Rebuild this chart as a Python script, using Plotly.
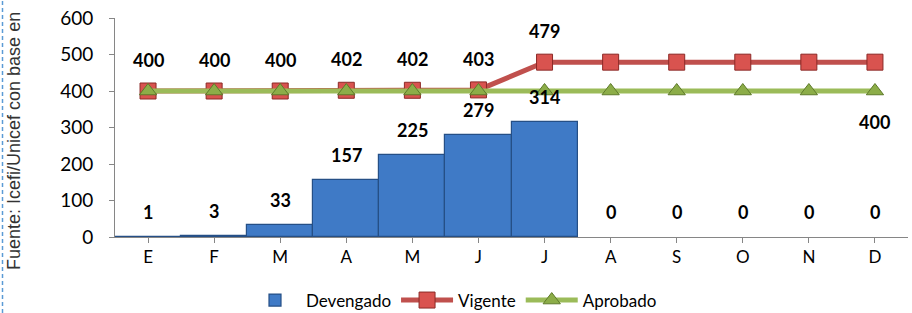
import plotly.graph_objects as go

months = ["E", "F", "M", "A", "M", "J", "J", "A", "S", "O", "N", "D"]
devengado = [1, 3, 33, 157, 225, 279, 314, 0, 0, 0, 0, 0]
vigente = [400, 400, 400, 402, 402, 403, 479, 479, 479, 479, 479, 479]
aprobado = [400, 400, 400, 400, 400, 400, 400, 400, 400, 400, 400, 400]
vigente_labels = ["400", "400", "400", "402", "402", "403", "479", "", "", "", "", ""]
aprobado_labels = ["", "", "", "", "", "", "", "", "", "", "", "400"]
source_text = "Fuente: Icefi/Unicef con base en"

W, H = 912, 313
ML, MR, MT, MB = 115, 4, 18, 76
pw, ph = W - ML - MR, H - MT - MB

x = list(range(len(months)))
FONT = "Lato, Carlito, Calibri, sans-serif"
LBL = 18

fig = go.Figure()
fig.add_trace(go.Bar(
    x=x, y=devengado, name="Devengado",
    marker=dict(color="#3f7ac6",
                line=dict(color="#254f86", width=[1.2 if v > 0 else 0 for v in devengado])),
))
fig.add_trace(go.Scatter(
    x=x, y=vigente, name="Vigente", mode="lines+markers",
    line=dict(color="#c0504d", width=5),
    marker=dict(symbol="square", size=16, color="#d9534f",
                line=dict(color="#8c2a27", width=1)),
))
fig.add_trace(go.Scatter(
    x=x, y=aprobado, name="Aprobado", mode="lines+markers",
    line=dict(color="#9bbb59", width=5),
    marker=dict(symbol="triangle-up", size=15, color="#8cad48",
                line=dict(color="#5e7a2a", width=1)),
))

annotations = []
for i, v in enumerate(devengado):
    annotations.append(dict(x=i, y=v, text=f"<b>{v}</b>", showarrow=False,
                            yshift=25, font=dict(size=LBL, color="black", family=FONT)))
for i, t in enumerate(vigente_labels):
    if t:
        annotations.append(dict(x=i, y=vigente[i], text=f"<b>{t}</b>", showarrow=False,
                                yshift=31, font=dict(size=LBL, color="black", family=FONT)))
for i, t in enumerate(aprobado_labels):
    if t:
        annotations.append(dict(x=i, y=aprobado[i], text=f"<b>{t}</b>", showarrow=False,
                                yshift=-31, font=dict(size=LBL, color="black", family=FONT)))

annotations.append(dict(
    xref="paper", yref="paper",
    x=(14 - ML) / pw, y=(MT + ph - 272) / ph,
    xanchor="center", yanchor="bottom",
    text=source_text, textangle=-90, showarrow=False,
    font=dict(size=18, color="#333333", family="Liberation Sans, Arial, sans-serif"),
))

fig.update_layout(
    width=W, height=H,
    margin=dict(l=ML, r=MR, t=MT, b=MB, autoexpand=False),
    paper_bgcolor="white", plot_bgcolor="white",
    bargap=0.0,
    font=dict(family=FONT, size=16, color="black"),
    showlegend=True,
    legend=dict(orientation="h", x=(244 - ML) / pw, xanchor="left", y=-0.29, yanchor="middle",
                font=dict(size=17, family=FONT), traceorder="normal",
                itemwidth=52, tracegroupgap=0),
    annotations=annotations,
    shapes=[dict(type="line", xref="paper", yref="paper",
                 x0=(2.5 - ML) / pw, x1=(2.5 - ML) / pw,
                 y0=(MT + ph - H) / ph, y1=(MT + ph) / ph,
                 line=dict(color="#5b9bd5", width=1.5, dash="4px,3px"))],
)
fig.update_xaxes(
    tickmode="array", tickvals=x, ticktext=months,
    range=[-0.5, 11.5], showline=True, linecolor="#868686", linewidth=1,
    ticks="outside", ticklen=5, tickcolor="#868686", tickson="boundaries",
    showgrid=False, zeroline=False, tickfont=dict(size=17), automargin=False,
)
fig.update_yaxes(
    range=[0, 600], dtick=100, showline=True, linecolor="#868686", linewidth=1,
    ticks="outside", ticklen=5, tickcolor="#868686", ticklabelstandoff=12,
    showgrid=False, zeroline=False, tickfont=dict(size=19), automargin=False,
)

fig.write_html("out.html", config={"displayModeBar": False},
               post_script="document.body.style.margin='0';document.body.style.overflow='hidden';")
